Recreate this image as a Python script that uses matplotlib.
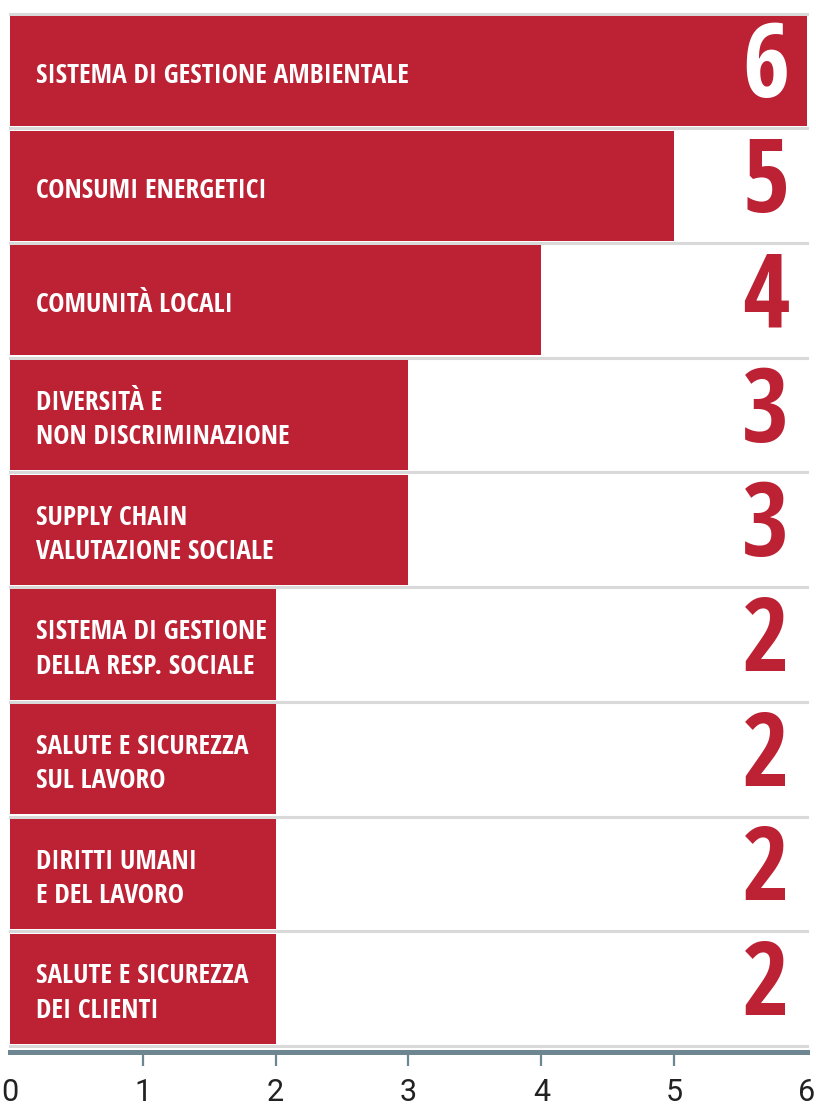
import matplotlib
matplotlib.use("Agg")
import matplotlib.pyplot as plt
from matplotlib import font_manager
from matplotlib.textpath import TextPath

# data
labels = ["SISTEMA DI GESTIONE AMBIENTALE",
          "CONSUMI ENERGETICI",
          "COMUNITÀ LOCALI",
          "DIVERSITÀ E\nNON DISCRIMINAZIONE",
          "SUPPLY CHAIN\nVALUTAZIONE SOCIALE",
          "SISTEMA DI GESTIONE\nDELLA RESP. SOCIALE",
          "SALUTE E SICUREZZA\nSUL LAVORO",
          "DIRITTI UMANI\nE DEL LAVORO",
          "SALUTE E SICUREZZA\nDEI CLIENTI"]
values = [6, 5, 4, 3, 3, 2, 2, 2, 2]
xticks = [0, 1, 2, 3, 4, 5, 6]

RED = "#bd2134"
AXIS = "#6d8692"
SEP = "#d9d9d9"
SANS = ("DejaVu Sans", "Liberation Sans", "Noto Sans", "Roboto", "Open Sans", "Lato", "Inter")


def is_bold(f):
    w = f.weight
    if isinstance(w, str):
        return w in ("bold", "heavy", "black", "extra bold", "semibold", "demibold")
    return w >= 600


def extent(s, fp):
    return TextPath((0, 0), s, size=10, prop=fp).get_extents()


# narrowest bold face among the plain sans families (reference uses a condensed display font)
best = None
for f in font_manager.fontManager.ttflist:
    if not is_bold(f) or not f.name.startswith(SANS):
        continue
    if "CJK" in f.name or "Mono" in f.name or "Italic" in f.fname or "Oblique" in f.fname:
        continue
    if str(f.style) != "normal":
        continue
    try:
        fp = font_manager.FontProperties(fname=f.fname)
        r = extent(labels[0], fp).width / extent("H", fp).height
    except Exception:
        continue
    if best is None or r < best[0]:
        best = (r, f.fname)
fp_bold = font_manager.FontProperties(fname=best[1])

# size the labels so the first one spans ~370 px like the reference
lab_size = 10 * (370 * 0.72) / extent(labels[0], fp_bold).width
lab_ls = 37 / (extent("lp", fp_bold).height / 10 * lab_size * 100 / 72)
# value digits about 75 px tall
num_size = 10 * (75 * 0.72) / extent("6", fp_bold).height

fig = plt.figure(figsize=(8.16, 11.08), dpi=100)
ax = fig.add_axes([10 / 816, 1 - 1052 / 1108, 797 / 816, (1052 - 13.6) / 1108])

ypos = list(range(len(values)))
ax.barh(ypos, values, height=0.96, color=RED, zorder=2)

# separators between rows
for i in range(len(values) + 1):
    ax.axhline(i - 0.5, color=SEP, lw=2.2, zorder=1, clip_on=False)

for y, lab, v in zip(ypos, labels, values):
    ax.text(0.196, y + 0.04, lab, color="white", fontsize=lab_size,
            va="center", ha="left", linespacing=lab_ls, zorder=3,
            fontproperties=fp_bold)
    ax.text(5.69, y, str(v), color="white" if v >= 6 else RED,
            fontsize=num_size, va="center", ha="center", zorder=3,
            fontproperties=fp_bold)

ax.set_xlim(0, 6)
ax.set_ylim(len(values) - 1 + 0.553, -0.5)
ax.set_yticks([])
ax.set_xticks(xticks)
ax.set_xticklabels([str(t) for t in xticks], color="#222222",
                   fontproperties=font_manager.FontProperties(family="Roboto", size=22))
ax.tick_params(axis="x", length=10, width=1.6, color=AXIS, pad=9)
# no tick marks at the two ends
for t in (ax.xaxis.get_major_ticks()[0], ax.xaxis.get_major_ticks()[-1]):
    t.tick1line.set_visible(False)
for s in ["top", "left", "right"]:
    ax.spines[s].set_visible(False)
ax.spines["bottom"].set_color(AXIS)
ax.spines["bottom"].set_linewidth(3.6)
ax.patch.set_alpha(0)

fig.savefig("out.png", dpi=100)
